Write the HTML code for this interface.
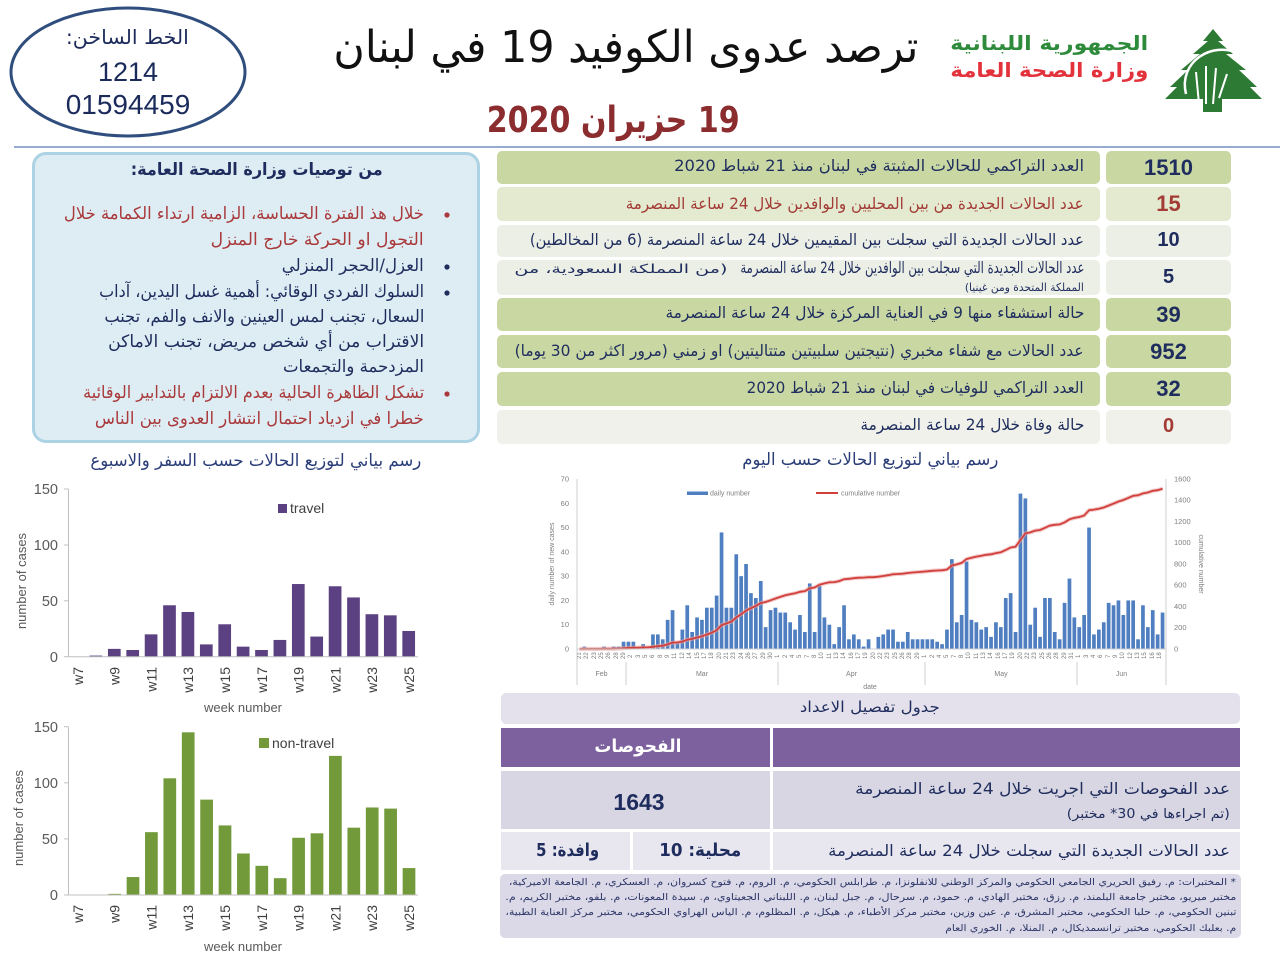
<!DOCTYPE html>
<html><head><meta charset="utf-8">
<style>
html,body{margin:0;padding:0;background:#fff}
#pg{position:relative;width:1280px;height:960px;overflow:hidden;background:#fff;font-family:"Liberation Sans",sans-serif}
.t{position:absolute;white-space:nowrap;font-family:"DejaVu Sans",sans-serif;direction:rtl;text-align:right;line-height:1}
.t>span{display:inline-block;transform-origin:100% 50%}
.b{font-weight:bold}
.bx{position:absolute}
.n{position:absolute;font-family:"Liberation Sans",sans-serif;font-weight:bold;text-align:center;line-height:1;white-space:nowrap}
.nv{color:#1f2d5e}.rd{color:#a33b36}
#dl{position:absolute;left:577px;top:651px;width:590px;height:10px;display:flex;overflow:hidden}
#dl span{display:inline-block;width:7.35px;height:10px;writing-mode:vertical-rl;transform:rotate(180deg);font-size:6px;line-height:7px;color:#7a7a7a;font-family:"Liberation Sans",sans-serif;text-align:center}
svg text{font-family:"Liberation Sans",sans-serif}
</style></head><body><div id="pg">

<!-- left recommendation box -->
<div class="bx" style="left:32px;top:152px;width:442px;height:285px;background:#deedf3;border:3px solid #acd3e4;border-radius:14px"></div>

<!-- right summary table -->
<div class="bx" style="left:497px;top:151px;width:603px;height:33px;background:#c9d8a3;border-radius:5px"></div>
<div class="bx" style="left:1106px;top:151px;width:125px;height:33px;background:#c9d8a3;border-radius:5px"></div>
<div class="bx" style="left:497px;top:187px;width:603px;height:34px;background:#e3eacf;border-radius:5px"></div>
<div class="bx" style="left:1106px;top:187px;width:125px;height:34px;background:#e3eacf;border-radius:5px"></div>
<div class="bx" style="left:497px;top:225px;width:603px;height:32px;background:#ecefe6;border-radius:5px"></div>
<div class="bx" style="left:1106px;top:225px;width:125px;height:32px;background:#ecefe6;border-radius:5px"></div>
<div class="bx" style="left:497px;top:260px;width:603px;height:35px;background:#ecefe6;border-radius:5px"></div>
<div class="bx" style="left:1106px;top:260px;width:125px;height:35px;background:#ecefe6;border-radius:5px"></div>
<div class="bx" style="left:497px;top:298px;width:603px;height:33px;background:#c9d8a3;border-radius:5px"></div>
<div class="bx" style="left:1106px;top:298px;width:125px;height:33px;background:#c9d8a3;border-radius:5px"></div>
<div class="bx" style="left:497px;top:335px;width:603px;height:33px;background:#c9d8a3;border-radius:5px"></div>
<div class="bx" style="left:1106px;top:335px;width:125px;height:33px;background:#c9d8a3;border-radius:5px"></div>
<div class="bx" style="left:497px;top:372px;width:603px;height:34px;background:#c9d8a3;border-radius:5px"></div>
<div class="bx" style="left:1106px;top:372px;width:125px;height:34px;background:#c9d8a3;border-radius:5px"></div>
<div class="bx" style="left:497px;top:410px;width:603px;height:34px;background:#eff1ea;border-radius:5px"></div>
<div class="bx" style="left:1106px;top:410px;width:125px;height:34px;background:#eff1ea;border-radius:5px"></div>

<!-- bottom table -->
<div class="bx" style="left:501px;top:693px;width:739px;height:31px;background:#e5e1ec;border-radius:5px"></div>
<div class="bx" style="left:501px;top:728px;width:269px;height:39px;background:#7d609e"></div>
<div class="bx" style="left:773px;top:728px;width:467px;height:39px;background:#7d609e"></div>
<div class="bx" style="left:501px;top:771px;width:269px;height:58px;background:#d8d6e2"></div>
<div class="bx" style="left:773px;top:771px;width:467px;height:58px;background:#d8d6e2"></div>
<div class="bx" style="left:501px;top:832px;width:129px;height:38px;background:#e8e6ee"></div>
<div class="bx" style="left:633px;top:832px;width:137px;height:38px;background:#e8e6ee"></div>
<div class="bx" style="left:773px;top:832px;width:467px;height:38px;background:#e8e6ee"></div>
<div class="bx" style="left:500px;top:874px;width:741px;height:64px;background:#dbd8e7;border-radius:5px"></div>

<svg width="1280" height="960" style="position:absolute;left:0;top:0" xmlns="http://www.w3.org/2000/svg">
  <ellipse cx="128" cy="72" rx="117" ry="64" fill="none" stroke="#2f4e7d" stroke-width="3"/>
  <line x1="14" y1="147" x2="1280" y2="147" stroke="#7390bd" stroke-width="1.5"/>
  <polygon fill="#2d7a35" points="1213,29 1223,41 1218,41 1233,54 1226,54 1246,70 1239,70 1257,87 1250,87 1262,99 1222,99 1222,112 1203,112 1203,99 1165,99 1177,87 1170,87 1188,70 1181,70 1200,54 1193,54 1208,41 1203,41"/>
  <path d="M1186,94 C1178,62 1212,40 1240,54" fill="none" stroke="#fff" stroke-width="2.5"/>
  <path d="M1199,104 L1196,72 M1206,104 L1206,66 M1213,104 L1216,68 M1219,98 L1227,74" fill="none" stroke="#fff" stroke-width="2"/>
  <circle cx="447" cy="215" r="2.6" fill="#a9393b"/>
  <circle cx="447" cy="267" r="2.6" fill="#1f2c5e"/>
  <circle cx="447" cy="293" r="2.6" fill="#1f2c5e"/>
  <circle cx="447" cy="394" r="2.6" fill="#a9393b"/>

  <g id="bars"></g>

  <g stroke="#c0c0c0" stroke-width="1">
    <line x1="68.5" y1="489" x2="68.5" y2="657"/>
    <line x1="68.5" y1="656.7" x2="418" y2="656.7"/>
    <line x1="64" y1="489" x2="68.5" y2="489"/><line x1="64" y1="545" x2="68.5" y2="545"/><line x1="64" y1="600.8" x2="68.5" y2="600.8"/><line x1="64" y1="656.7" x2="68.5" y2="656.7"/>
    <line x1="68.5" y1="726.7" x2="68.5" y2="895"/>
    <line x1="68.5" y1="895" x2="418" y2="895"/>
    <line x1="64" y1="726.7" x2="68.5" y2="726.7"/><line x1="64" y1="782.8" x2="68.5" y2="782.8"/><line x1="64" y1="838.9" x2="68.5" y2="838.9"/><line x1="64" y1="895" x2="68.5" y2="895"/>
  </g>
  <g font-size="14.5" fill="#595959" text-anchor="end">
    <text x="58" y="494">150</text><text x="58" y="550">100</text><text x="58" y="606">50</text><text x="58" y="662">0</text>
    <text x="58" y="732">150</text><text x="58" y="788">100</text><text x="58" y="844">50</text><text x="58" y="900">0</text>
  </g>
  <g font-size="14" fill="#404040" text-anchor="end">
    <text transform="translate(83,667) rotate(-90)">w7</text>
    <text transform="translate(119.5,667) rotate(-90)">w9</text>
    <text transform="translate(156.5,667) rotate(-90)">w11</text>
    <text transform="translate(193,667) rotate(-90)">w13</text>
    <text transform="translate(230,667) rotate(-90)">w15</text>
    <text transform="translate(267,667) rotate(-90)">w17</text>
    <text transform="translate(303.5,667) rotate(-90)">w19</text>
    <text transform="translate(340.5,667) rotate(-90)">w21</text>
    <text transform="translate(377,667) rotate(-90)">w23</text>
    <text transform="translate(414,667) rotate(-90)">w25</text>
    <text transform="translate(83,905) rotate(-90)">w7</text>
    <text transform="translate(119.5,905) rotate(-90)">w9</text>
    <text transform="translate(156.5,905) rotate(-90)">w11</text>
    <text transform="translate(193,905) rotate(-90)">w13</text>
    <text transform="translate(230,905) rotate(-90)">w15</text>
    <text transform="translate(267,905) rotate(-90)">w17</text>
    <text transform="translate(303.5,905) rotate(-90)">w19</text>
    <text transform="translate(340.5,905) rotate(-90)">w21</text>
    <text transform="translate(377,905) rotate(-90)">w23</text>
    <text transform="translate(414,905) rotate(-90)">w25</text>
  </g>
  <g font-size="13" fill="#595959" text-anchor="middle">
    <text x="243" y="712">week number</text>
    <text x="243" y="951">week number</text>
    <text transform="translate(26,581) rotate(-90)">number of cases</text>
    <text transform="translate(23,818) rotate(-90)">number of cases</text>
  </g>
  <rect x="278" y="504" width="9" height="9" fill="#5b4181"/>
  <text x="290" y="513" font-size="14" fill="#404040">travel</text>
  <rect x="259" y="738" width="10" height="10" fill="#739a3a"/>
  <text x="272" y="748" font-size="14" fill="#404040">non-travel</text>

  <g stroke="#cfcfcf" stroke-width="1">
    <line x1="577" y1="479" x2="577" y2="649"/>
    <line x1="1166" y1="479" x2="1166" y2="649"/>
    <line x1="577" y1="649" x2="1166" y2="649"/>
    <line x1="577" y1="649" x2="577" y2="685"/>
    <line x1="626" y1="662" x2="626" y2="685"/>
    <line x1="778" y1="662" x2="778" y2="685"/>
    <line x1="925" y1="662" x2="925" y2="685"/>
    <line x1="1077" y1="662" x2="1077" y2="685"/>
    <line x1="1166" y1="649" x2="1166" y2="685"/>
  </g>
  <g font-size="7.5" fill="#7f7f7f" text-anchor="end">
    <text x="569" y="651.5">0</text><text x="569" y="627.2">10</text><text x="569" y="602.9">20</text><text x="569" y="578.6">30</text>
    <text x="569" y="554.4">40</text><text x="569" y="530.1">50</text><text x="569" y="505.8">60</text><text x="569" y="481.5">70</text>
  </g>
  <g font-size="7.5" fill="#7f7f7f" text-anchor="start">
    <text x="1174" y="651.5">0</text><text x="1174" y="630.2">200</text><text x="1174" y="609">400</text><text x="1174" y="587.7">600</text>
    <text x="1174" y="566.5">800</text><text x="1174" y="545.2">1000</text><text x="1174" y="524">1200</text><text x="1174" y="502.7">1400</text><text x="1174" y="481.5">1600</text>
  </g>
  <g font-size="7" fill="#7f7f7f" text-anchor="middle">
    <text transform="translate(554,564) rotate(-90)">daily number of new cases</text>
    <text transform="translate(1199,564) rotate(90)">cumulative number</text>
    <text x="601.5" y="676">Feb</text><text x="702" y="676">Mar</text><text x="851.5" y="676">Apr</text><text x="1001" y="676">May</text><text x="1121.5" y="676">Jun</text>
    <text x="870" y="689">date</text>
  </g>
  <rect x="687" y="491.5" width="21" height="3.5" fill="#4f7fc0"/>
  <text x="710" y="495.5" font-size="7" fill="#7f7f7f">daily number</text>
  <line x1="816" y1="493" x2="838" y2="493" stroke="#d2403c" stroke-width="2"/>
  <text x="841" y="495.5" font-size="7" fill="#7f7f7f">cumulative number</text>
</svg>

<div id="dl"><span>21</span><span>22</span><span>23</span><span>25</span><span>26</span><span>28</span><span>29</span><span>2</span><span>3</span><span>5</span><span>6</span><span>8</span><span>9</span><span>11</span><span>12</span><span>14</span><span>15</span><span>17</span><span>18</span><span>20</span><span>21</span><span>23</span><span>24</span><span>26</span><span>27</span><span>29</span><span>30</span><span>1</span><span>2</span><span>4</span><span>5</span><span>7</span><span>8</span><span>10</span><span>11</span><span>13</span><span>14</span><span>16</span><span>17</span><span>19</span><span>20</span><span>22</span><span>23</span><span>25</span><span>26</span><span>28</span><span>29</span><span>1</span><span>2</span><span>4</span><span>5</span><span>7</span><span>8</span><span>10</span><span>11</span><span>13</span><span>14</span><span>16</span><span>17</span><span>19</span><span>20</span><span>22</span><span>23</span><span>25</span><span>26</span><span>28</span><span>29</span><span>31</span><span>1</span><span>3</span><span>4</span><span>6</span><span>7</span><span>9</span><span>10</span><span>12</span><span>13</span><span>15</span><span>16</span><span>18</span></div>

<div class="t" style="left:66px;width:123px;top:27px;font-size:20px;color:#1c2b5c"><span>الخط الساخن:</span></div>
<div class="n" style="left:28px;width:200px;top:59px;font-size:27px;font-weight:normal;color:#1a2a5a">1214</div>
<div class="n" style="left:28px;width:200px;top:91px;font-size:28px;font-weight:normal;color:#1a2a5a">01594459</div>
<div class="t" style="left:333px;width:585px;top:26px;font-size:44px;color:#111"><span>ترصد عدوى الكوفيد 19 في لبنان</span></div>
<div class="t b" style="left:487px;width:253px;top:103px;font-size:36px;color:#8b2c2f"><span>19 حزيران 2020</span></div>
<div class="t b" style="left:950px;width:198px;top:33px;font-size:20px;color:#2e8b3b"><span>الجمهورية اللبنانية</span></div>
<div class="t b" style="left:950px;width:198px;top:60px;font-size:20px;color:#e3323b"><span>وزارة الصحة العامة</span></div>

<div class="t b" style="left:131px;width:252px;top:162px;font-size:17px;color:#1f2d5e"><span>من توصيات وزارة الصحة العامة:</span></div>
<div class="t" style="left:64px;width:360px;top:206px;font-size:17px;color:#a9393b"><span>خلال هذ الفترة الحساسة، الزامية ارتداء الكمامة خلال</span></div>
<div class="t" style="left:211px;width:213px;top:232px;font-size:17px;color:#a9393b"><span>التجول او الحركة خارج المنزل</span></div>
<div class="t" style="left:282px;width:142px;top:258px;font-size:17px;color:#1f2c5e"><span>العزل/الحجر المنزلي</span></div>
<div class="t" style="left:99px;width:325px;top:284px;font-size:17px;color:#1f2c5e"><span>السلوك الفردي الوقائي: أهمية غسل اليدين، آداب</span></div>
<div class="t" style="left:104px;width:320px;top:309px;font-size:17px;color:#1f2c5e"><span>السعال، تجنب لمس العينين والانف والفم، تجنب</span></div>
<div class="t" style="left:108px;width:316px;top:334px;font-size:17px;color:#1f2c5e"><span>الاقتراب من أي شخص مريض، تجنب الاماكن</span></div>
<div class="t" style="left:283px;width:141px;top:359px;font-size:17px;color:#1f2c5e"><span>المزدحمة والتجمعات</span></div>
<div class="t" style="left:83px;width:341px;top:385px;font-size:17px;color:#a9393b"><span>تشكل الظاهرة الحالية بعدم الالتزام بالتدابير الوقائية</span></div>
<div class="t" style="left:95px;width:329px;top:411px;font-size:17px;color:#a9393b"><span>خطرا في ازدياد احتمال انتشار العدوى بين الناس</span></div>

<div class="t nv" style="left:674px;width:410px;top:158px;font-size:16px"><span>العدد التراكمي للحالات المثبتة في لبنان منذ 21 شباط 2020</span></div>
<div class="t rd" style="left:626px;width:458px;top:196px;font-size:16px"><span>عدد الحالات الجديدة من بين المحليين والوافدين خلال 24 ساعة المنصرمة</span></div>
<div class="t nv" style="left:530px;width:554px;top:232px;font-size:16px"><span>عدد الحالات الجديدة التي سجلت بين المقيمين خلال 24 ساعة المنصرمة (6 من المخالطين)</span></div>
<div class="t nv" style="left:740px;width:344px;top:260px;font-size:16px"><span>عدد الحالات الجديدة التي سجلت بين الوافدين خلال 24 ساعة المنصرمة</span></div>
<div class="t nv" style="left:514px;width:213px;top:263px;font-size:12.5px"><span>(من المملكة السعودية، من</span></div>
<div class="t nv" style="left:965px;width:119px;top:282px;font-size:11px"><span>المملكة المتحدة ومن غينيا)</span></div>
<div class="t nv" style="left:665px;width:419px;top:305px;font-size:16px"><span>حالة استشفاء منها  9 في العناية المركزة خلال 24 ساعة المنصرمة</span></div>
<div class="t nv" style="left:515px;width:569px;top:343px;font-size:16px"><span>عدد الحالات مع شفاء مخبري (نتيجتين سلبيتين متتاليتين) او زمني (مرور اكثر من 30 يوما)</span></div>
<div class="t nv" style="left:747px;width:337px;top:380px;font-size:16px"><span>العدد التراكمي للوفيات في لبنان منذ 21 شباط  2020</span></div>
<div class="t nv" style="left:860px;width:224px;top:417px;font-size:16px"><span>حالة وفاة خلال 24 ساعة المنصرمة</span></div>

<div class="n nv" style="left:1106px;width:125px;top:157px;font-size:22px">1510</div>
<div class="n rd" style="left:1106px;width:125px;top:193px;font-size:22px">15</div>
<div class="n nv" style="left:1106px;width:125px;top:230px;font-size:20px">10</div>
<div class="n nv" style="left:1106px;width:125px;top:267px;font-size:20px">5</div>
<div class="n nv" style="left:1106px;width:125px;top:304px;font-size:22px">39</div>
<div class="n nv" style="left:1106px;width:125px;top:341px;font-size:22px">952</div>
<div class="n nv" style="left:1106px;width:125px;top:378px;font-size:22px">32</div>
<div class="n rd" style="left:1106px;width:125px;top:416px;font-size:20px">0</div>

<div class="t" style="left:90px;width:331px;top:453px;font-size:17px;color:#2a3d78"><span>رسم بياني لتوزيع الحالات حسب السفر والاسبوع</span></div>
<div class="t" style="left:742px;width:256px;top:452px;font-size:17px;color:#2a3d78"><span>رسم بياني لتوزيع الحالات حسب اليوم</span></div>

<div class="t nv" style="left:800px;width:140px;top:700px;font-size:15px"><span>جدول تفصيل الاعداد</span></div>
<div class="t b" style="left:594px;width:87px;top:738px;font-size:18px;color:#fff"><span>الفحوصات</span></div>
<div class="n nv" style="left:501px;width:276px;top:791px;font-size:23px">1643</div>
<div class="t nv" style="left:855px;width:375px;top:781px;font-size:16px"><span>عدد الفحوصات التي اجريت خلال 24 ساعة المنصرمة</span></div>
<div class="t nv" style="left:1067px;width:163px;top:808px;font-size:13px"><span>(تم اجراءها في 30* مختبر)</span></div>
<div class="t nv" style="left:828px;width:402px;top:843px;font-size:16px"><span>عدد الحالات الجديدة التي سجلت خلال 24 ساعة المنصرمة</span></div>
<div class="t nv b" style="left:659px;width:82px;top:842px;font-size:18px"><span>محلية: 10</span></div>
<div class="t nv b" style="left:536px;width:63px;top:842px;font-size:18px"><span>وافدة: 5</span></div>

<div class="t" style="left:509px;width:727px;top:878px;font-size:9.5px;color:#2a3566"><span>* المختبرات: م. رفيق الحريري الجامعي الحكومي والمركز الوطني للانفلونزا، م. طرابلس الحكومي، م. الروم، م. فتوح كسروان، م. العسكري، م. الجامعة الاميركية،</span></div>
<div class="t" style="left:505px;width:731px;top:893px;font-size:9.5px;color:#2a3566"><span>مختبر ميريو، مختبر جامعة البلمند، م. رزق، مختبر الهادي، م. حمود، م. سرحال، م. جبل لبنان، م. اللبناني الجعيتاوي، م. سيدة المعونات، م. بلفو، مختبر الكريم، م.</span></div>
<div class="t" style="left:505px;width:731px;top:908px;font-size:9.5px;color:#2a3566"><span>تبنين الحكومي، م. حلبا الحكومي، مختبر المشرق، م. عين وزين، مختبر مركز الأطباء، م. هيكل، م. المظلوم، م. الياس الهراوي الحكومي، مختبر مركز العناية الطبية،</span></div>
<div class="t" style="left:945px;width:291px;top:924px;font-size:9.5px;color:#2a3566"><span>م. بعلبك الحكومي، مختبر ترانسمديكال، م. المنلا، م. الخوري العام</span></div>

</div>
<script>
(function(){
var NS='http://www.w3.org/2000/svg';
function el(tag,a,p){var e=document.createElementNS(NS,tag);for(var k in a)e.setAttribute(k,a[k]);p.appendChild(e);return e;}
var g=document.getElementById('bars');
var tr=[0,1,7,6,20,46,40,11,29,9,6,15,65,18,63,53,38,37,23];
var nt=[0,0,1,16,56,104,145,85,62,37,26,15,51,55,124,60,78,77,24];
for(var i=0;i<19;i++){
  var x=68.3+i*18.4+2.85;
  if(tr[i]>0) el('rect',{x:x,y:656.7-tr[i]*1.118,width:12.7,height:tr[i]*1.118,fill:'#5b4181'},g);
  if(nt[i]>0) el('rect',{x:x+0.3,y:895-nt[i]*1.122,width:12.7,height:nt[i]*1.122,fill:'#739a3a'},g);
}
var d=[0,1,0,0,0,1,0,1,1,3,3,3,0,2,0,6,6,4,12,16,3,8,18,7,13,12,17,17,22,48,17,17,39,30,35,23,21,28,9,16,17,15,15,11,8,14,7,27,7,26,13,10,2,9,18,4,6,4,1,4,0,5,6,8,8,3,3,7,4,4,4,4,4,3,2,8,37,11,14,36,12,11,8,9,5,11,9,21,23,7,64,62,10,17,5,21,21,7,4,19,29,13,9,14,50,6,8,11,19,18,20,14,20,20,4,18,9,16,6,15];
var tot=0;for(i=0;i<d.length;i++)tot+=d[i];
var sc=1510/tot,cum=0,pts=[];
for(i=0;i<d.length;i++){
  var cx=577+(i+0.5)*4.9;
  if(d[i]>0) el('rect',{x:(cx-1.85).toFixed(2),y:(649-d[i]*2.4286).toFixed(2),width:3.7,height:(d[i]*2.4286).toFixed(2),fill:'#4f7fc0'},g);
  cum+=d[i];pts.push(cx.toFixed(1)+','+(649-cum*sc*0.10625).toFixed(1));
}
el('polyline',{points:pts.join(' '),fill:'none',stroke:'#eaa3a3','stroke-width':4,'stroke-opacity':0.6},g);
el('polyline',{points:pts.join(' '),fill:'none',stroke:'#d2403c','stroke-width':1.8},g);
var ts=document.querySelectorAll('.t');
for(i=0;i<ts.length;i++){
  var dv=ts[i],s=dv.firstElementChild;if(!s)continue;
  var w=s.getBoundingClientRect().width,tw=dv.clientWidth;
  if(w>0&&tw>0){s.style.transform='scaleX('+(tw/w)+')';}
}
})();
</script>
</body></html>
